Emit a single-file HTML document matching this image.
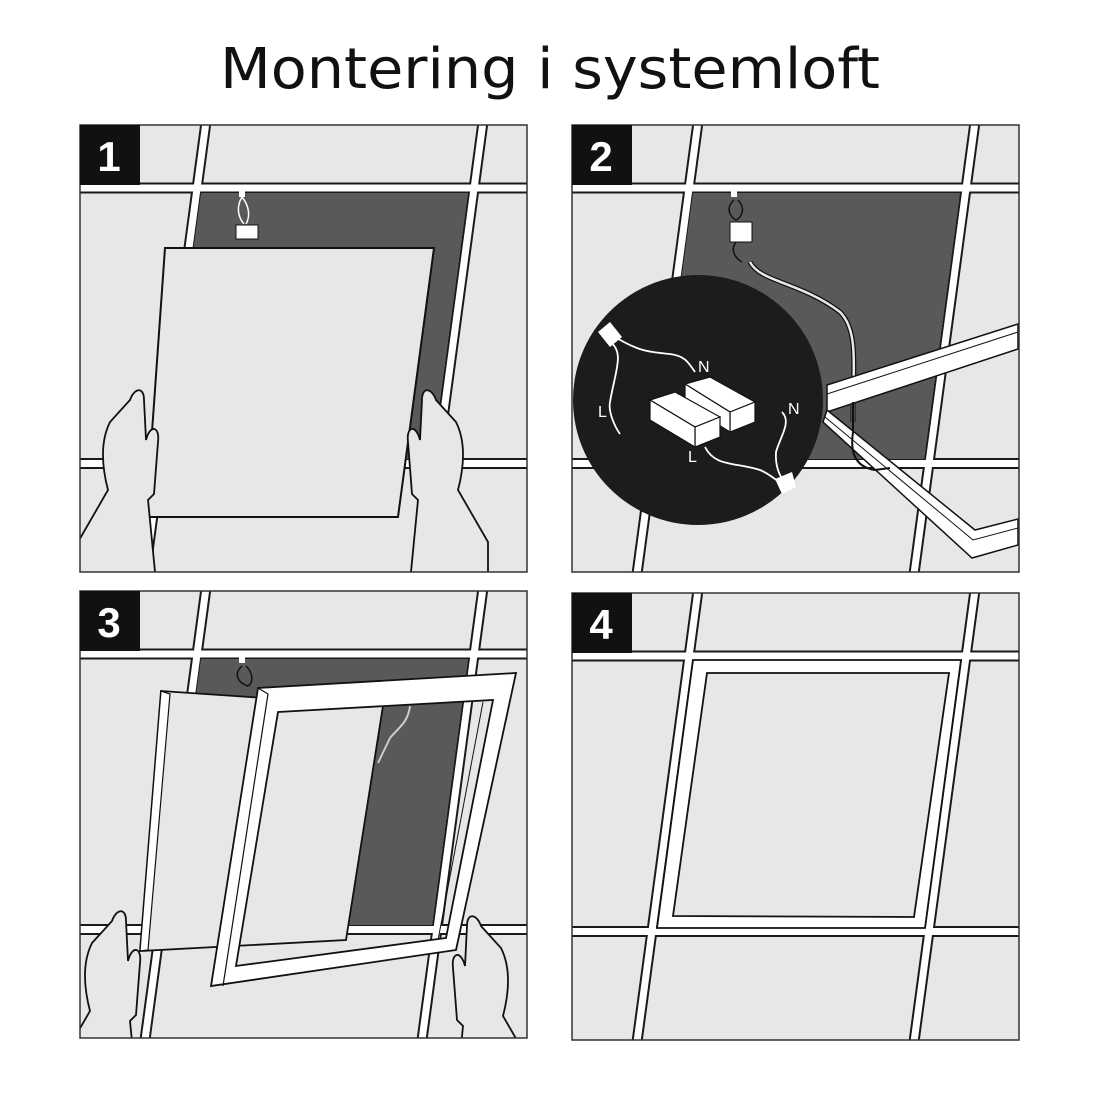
<!DOCTYPE html>
<html><head><meta charset="utf-8">
<style>html,body{margin:0;padding:0;background:#fff}svg{display:block}</style>
</head><body>
<svg width="1100" height="1100" viewBox="0 0 1100 1100" xmlns="http://www.w3.org/2000/svg">
<defs>
<clipPath id="pc"><rect x="2" y="3" width="447" height="447"/></clipPath>
<g id="grid">
  <rect x="2" y="3" width="447" height="447" fill="#e6e7e9"/>
  <g stroke="#1a1a1a" stroke-width="11" fill="none">
    <line x1="0" y1="66" x2="452" y2="66"/>
    <line x1="0" y1="341.5" x2="452" y2="341.5"/>
    <line x1="128" y1="0" x2="67" y2="452"/>
    <line x1="405" y1="0" x2="344" y2="452"/>
  </g>
  <g stroke="#fff" stroke-width="7" fill="none">
    <line x1="0" y1="66" x2="452" y2="66"/>
    <line x1="0" y1="341.5" x2="452" y2="341.5"/>
    <line x1="128" y1="0" x2="67" y2="452"/>
    <line x1="405" y1="0" x2="344" y2="452"/>
  </g>
</g>
<path id="lhand" d="M0,452 L0,420 L30,368 C24,345 22,320 32,300 L52,278 C56,266 66,264 66,278 L68,318 C72,302 82,304 80,320 L76,372 L70,378 L78,460 L0,460 Z" fill="#e6e7e9" stroke="#111" stroke-width="1.8"/>
</defs>

<text x="550" y="88" text-anchor="middle" font-family="'DejaVu Sans','Liberation Sans',sans-serif" font-size="56" textLength="660" lengthAdjust="spacingAndGlyphs" fill="#111">Montering i systemloft</text>

<!-- Panel 1 -->
<g transform="translate(78,122)">
 <g clip-path="url(#pc)">
  <use href="#grid"/>
  <polygon points="123,71 390,71 354,337 87,337" fill="#58595b"/>
  <g stroke="#fff" stroke-width="1.5" fill="none">
    <path d="M164,75 C158,85 160,95 166,102 M164,75 C172,85 172,95 168,102"/>
  </g>
  <rect x="161" y="69" width="6" height="6" fill="#fff"/>
  <rect x="158" y="103" width="22" height="14" fill="#fff" stroke="#111"/>
  <polygon points="87,126 356,126 320,395 68,395" fill="#e6e7e9" stroke="#111" stroke-width="2"/>
  <use href="#lhand"/>
  <use href="#lhand" transform="translate(410,0) scale(-1,1)"/>
 </g>
  <rect x="2" y="3" width="447" height="447" fill="none" stroke="#333" stroke-width="1.5"/>
  <rect x="2" y="3" width="60" height="60" fill="#111"/>
  <text x="31" y="49" text-anchor="middle" font-family="'Liberation Sans',sans-serif" font-weight="bold" font-size="42" fill="#fff">1</text>
</g>

<!-- Panel 2 -->
<g transform="translate(570,122)">
 <g clip-path="url(#pc)">
  <use href="#grid"/>
  <polygon points="123,71 390,71 354,337 87,337" fill="#58595b"/>
  <rect x="161" y="69" width="6" height="6" fill="#fff"/>
  <g stroke="#111" stroke-width="1.5" fill="none">
    <path d="M164,78 C155,86 160,95 166,98 C172,95 176,86 168,78"/>
    <path d="M166,120 C160,128 165,136 172,140"/>
  </g>
  <rect x="160" y="100" width="22" height="20" fill="#fff" stroke="#111"/>
  <path d="M180,140 C190,160 230,160 270,190 C285,205 285,230 283,280 L283,300" fill="none" stroke="#111" stroke-width="5"/>
  <path d="M180,140 C190,160 230,160 270,190 C285,205 285,230 283,280 L283,300" fill="none" stroke="#e6e7e9" stroke-width="2.5"/>
  <polygon points="257,263 448,202 448,227 257,290" fill="#fff" stroke="#111" stroke-width="1.5"/>
  <line x1="257" y1="272" x2="448" y2="210" stroke="#111" stroke-width="1"/>
  <polygon points="257,288 405,408 448,397 448,423 402,436 253,300" fill="#fff" stroke="#111" stroke-width="1.5"/>
  <polyline points="255,295 403,418 448,406" fill="none" stroke="#111" stroke-width="1"/>
  <path d="M283,280 L283,310 C280,330 285,345 305,348 L320,346" fill="none" stroke="#111" stroke-width="2"/>
  <circle cx="128" cy="278" r="125" fill="#1e1b1c"/>
  <g stroke="#fff" stroke-width="1.8" fill="none">
    <path d="M40,220 C55,230 45,250 40,280 C38,290 45,305 50,312"/>
    <path d="M45,215 C70,230 80,230 100,232 C115,234 118,240 125,250"/>
    <path d="M135,325 C145,345 165,340 190,348 C200,352 205,358 210,360"/>
    <path d="M212,290 C222,300 210,315 206,330 C205,345 210,355 215,360"/>
  </g>
  <polygon points="28,210 40,200 52,215 40,225" fill="#fff"/>
  <polygon points="205,357 222,350 226,365 212,372" fill="#fff"/>
  <g fill="#fff" stroke="#111" stroke-width="1.2">
    <polygon points="115,262 140,255 185,280 160,290"/>
    <polygon points="160,290 185,280 185,300 160,310"/>
    <polygon points="115,262 160,290 160,310 115,282"/>
    <polygon points="80,278 105,270 150,295 125,305"/>
    <polygon points="125,305 150,295 150,315 125,325"/>
    <polygon points="80,278 125,305 125,325 80,298"/>
  </g>
  <g font-family="'Liberation Sans',sans-serif" font-size="16" fill="#fff">
    <text x="128" y="250">N</text>
    <text x="28" y="295">L</text>
    <text x="218" y="292">N</text>
    <text x="118" y="340">L</text>
  </g>
 </g>
  <rect x="2" y="3" width="447" height="447" fill="none" stroke="#333" stroke-width="1.5"/>
  <rect x="2" y="3" width="60" height="60" fill="#111"/>
  <text x="31" y="49" text-anchor="middle" font-family="'Liberation Sans',sans-serif" font-weight="bold" font-size="42" fill="#fff">2</text>
</g>

<!-- Panel 3 -->
<g transform="translate(78,588)">
 <g clip-path="url(#pc)">
  <use href="#grid"/>
  <polygon points="123,71 390,71 354,337 87,337" fill="#58595b"/>
  <rect x="161" y="69" width="6" height="6" fill="#fff"/>
  <path d="M164,78 C155,86 160,95 170,98 C175,95 176,86 168,78" fill="none" stroke="#111" stroke-width="1.5"/>
  <path d="M332,118 C330,135 320,140 312,150 L300,175" fill="none" stroke="#ccc" stroke-width="2"/>
  <polygon points="83,103 305,118 268,352 62,363" fill="#e6e7e9" stroke="#111" stroke-width="1.8"/>
  <polygon points="83,103 92,106 70,362 62,363" fill="#fff" stroke="#111" stroke-width="1.2"/>
  <path fill-rule="evenodd" d="M180,100 L438,85 L378,362 L133,398 Z M200,124 L415,112 L368,350 L158,378 Z" fill="#fff" stroke="#111" stroke-width="1.8"/>
  <polyline points="180,100 190,106 145,398" fill="none" stroke="#111" stroke-width="1.2"/>
  <polyline points="405,114 360,352" fill="none" stroke="#111" stroke-width="1"/>
  <use href="#lhand" transform="translate(-18,55)"/>
  <use href="#lhand" transform="translate(455,60) scale(-1,1)"/>
 </g>
  <rect x="2" y="3" width="447" height="447" fill="none" stroke="#333" stroke-width="1.5"/>
  <rect x="2" y="3" width="60" height="60" fill="#111"/>
  <text x="31" y="49" text-anchor="middle" font-family="'Liberation Sans',sans-serif" font-weight="bold" font-size="42" fill="#fff">3</text>
</g>

<!-- Panel 4 -->
<g transform="translate(570,590)">
 <g clip-path="url(#pc)">
  <use href="#grid"/>
  <path fill-rule="evenodd" d="M123,70 L391,70 L355,338 L87,338 Z M137,83 L379,83 L344,327 L103,326 Z" fill="#fff" stroke="#111" stroke-width="1.8"/>
 </g>
  <rect x="2" y="3" width="447" height="447" fill="none" stroke="#333" stroke-width="1.5"/>
  <rect x="2" y="3" width="60" height="60" fill="#111"/>
  <text x="31" y="49" text-anchor="middle" font-family="'Liberation Sans',sans-serif" font-weight="bold" font-size="42" fill="#fff">4</text>
</g>
</svg>
</body></html>
